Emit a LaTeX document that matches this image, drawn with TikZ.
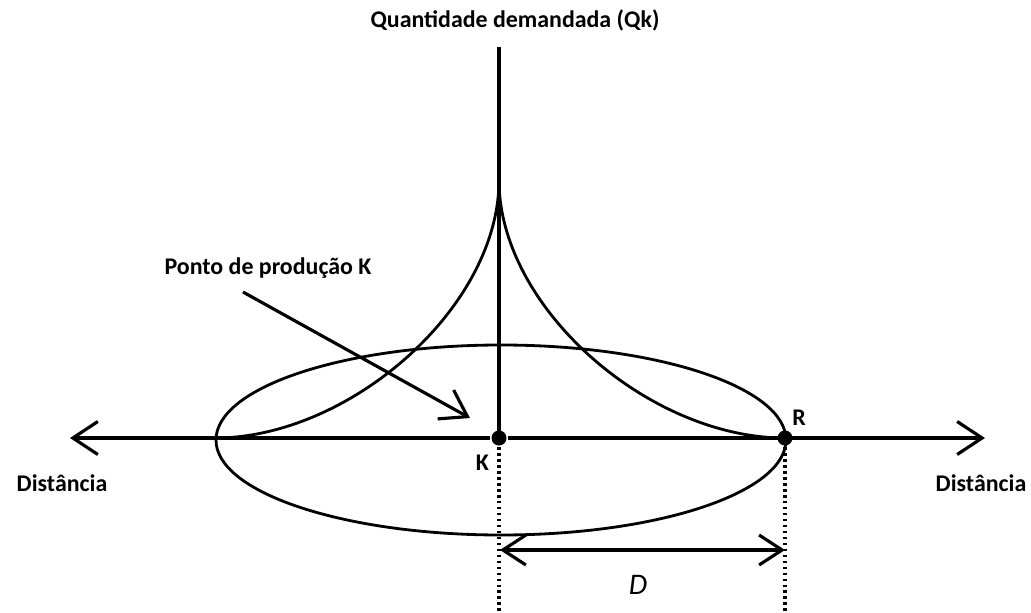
\documentclass[tikz,border=0pt]{standalone}
\usepackage{fontspec}
\setmainfont{Carlito}
\usetikzlibrary{arrows.meta}
\begin{document}
\begin{tikzpicture}[line width=1.8pt,
		lbl/.style={font=\bfseries\fontsize{13.6}{15}\selectfont},
		barb/.style={-{Straight Barb[length=0.5cm,width=0.66cm,line width=1.8pt]}},
		dot/.style={circle, fill=black, inner sep=0pt, minimum size=0.3cm},
		guide/.style={line width=1.8pt, dash pattern=on 1.5pt off 1.9pt}]
			\useasboundingbox (-9.98,-3.48) rectangle (10.64,8.76);
			\coordinate (left) at (-8.58,0); \coordinate (right) at (9.72,0);
			\coordinate (top) at (0,7.82); \coordinate (peak) at (0,5.16);
			\coordinate (L) at (-5.68,0);
			\node[dot] (K) at (0,0) {}; \node[dot] (R) at (5.72,0) {};
			\draw[barb] (K) -- (left); \draw[barb] (K) -- (right);
			\draw (K.center) -- (top);
			\draw[line width=1.6pt] (0.04,-0.04) ellipse (5.7cm and 1.9cm);
			\draw[line width=1.6pt] (peak) .. controls (0,2.6) and (-3.0,0) .. (L);
			\draw[line width=1.6pt] (peak) .. controls (0,2.6) and (3.0,0) .. (R.center);
			\node[lbl] (title) at (0.32,8.36) {Quantidade demandada (Qk)};
			\node[lbl] (ponto) at (-4.62,3.4) {Ponto de produção K};
			\coordinate (pstart) at (-5.12,2.92); \coordinate (pend) at (-0.58,0.4);
			\draw[barb] (pstart) -- (pend);
			\node[lbl] (distL) at (-8.74,-0.9) {Distância};
			\node[lbl] (distR) at (9.64,-0.9) {Distância};
			\node[lbl, anchor=north east] (klab) at (-0.05,-0.2) {K};
			\node[lbl, anchor=south west] (rlab) at (5.72,0.1) {R};
			\draw[guide] (K) -- (0,-3.48); \draw[guide] (R) -- (5.72,-3.48);
			\coordinate (dA) at (0.02,-2.24); \coordinate (dB) at (5.72,-2.24);
			\draw[{Straight Barb[length=0.46cm,width=0.6cm,line width=1.8pt]}-{Straight Barb[length=0.46cm,width=0.6cm,line width=1.8pt]}] (dA) -- (dB);
			\node[font=\itshape\fontsize{17}{19}\selectfont] (dlab) at (2.78,-2.94) {D};
		\end{tikzpicture}
\end{document}
